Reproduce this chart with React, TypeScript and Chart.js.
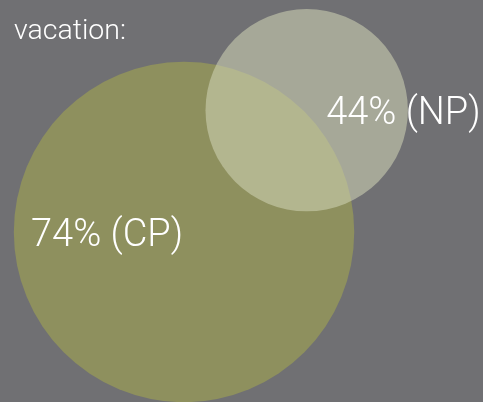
import React, { useEffect, useRef } from "react";
import { Chart, registerables } from "chart.js";

Chart.register(...registerables);

const TITLE = "vacation:";
const GROUPS = ["CP", "NP"];
const VALUES = [74, 44];
const CENTER_X = [38.1, 63.5];
const CENTER_Y = [42.3, 72.6];
const FILLS = ["#8e905e", "rgba(208,211,181,0.57)"];

const labelPlugin = {
  id: "vennLabels",
  beforeDraw(chart: any) {
    const { ctx, width, height } = chart;
    ctx.save();
    ctx.fillStyle = "#707073";
    ctx.fillRect(0, 0, width, height);
    ctx.restore();
  },
  afterDatasetsDraw(chart: any) {
    const { ctx } = chart;
    ctx.save();
    ctx.fillStyle = "#ffffff";
    ctx.textBaseline = "alphabetic";
    ctx.textAlign = "left";
    ctx.font = '300 28.5px Roboto, "Liberation Sans", Arial, sans-serif';
    ctx.fillText(TITLE, 14, 39);
    ctx.font = '300 38px Roboto, "Liberation Sans", Arial, sans-serif';
    const offsets = [
      [-153, 14],
      [19.5, 14],
    ];
    GROUPS.forEach((g, i) => {
      const el = chart.getDatasetMeta(i).data[0];
      ctx.fillText(`${VALUES[i]}% (${g})`, el.x + offsets[i][0], el.y + offsets[i][1]);
    });
    ctx.restore();
  },
};

export default function App() {
  const ref = useRef<HTMLCanvasElement>(null);
  useEffect(() => {
    document.body.style.margin = "0";
    document.body.style.background = "#707073";
    const chart = new Chart(ref.current!, {
      type: "bubble",
      data: {
        datasets: GROUPS.map((g, i) => ({
          label: g,
          data: [{ x: CENTER_X[i], y: CENTER_Y[i], r: VALUES[i] * 2.3 }],
          backgroundColor: FILLS[i],
          borderWidth: 0,
          hoverBorderWidth: 0,
          clip: false as any,
          order: GROUPS.length - i,
        })),
      },
      options: {
        animation: false,
        responsive: false,
        maintainAspectRatio: false,
        layout: { padding: 0, autoPadding: false },
        plugins: {
          legend: { display: false },
          title: { display: false },
          tooltip: { enabled: false },
        },
        scales: {
          x: { type: "linear", min: 0, max: 100, display: false },
          y: { type: "linear", min: 0, max: 100, display: false },
        },
      },
      plugins: [labelPlugin],
    });
    return () => chart.destroy();
  }, []);
  return (
    <div style={{ position: "fixed", left: 0, top: 0, width: 483, height: 402 }}>
      <canvas ref={ref} width={483} height={402} style={{ width: 483, height: 402 }} />
    </div>
  );
}
